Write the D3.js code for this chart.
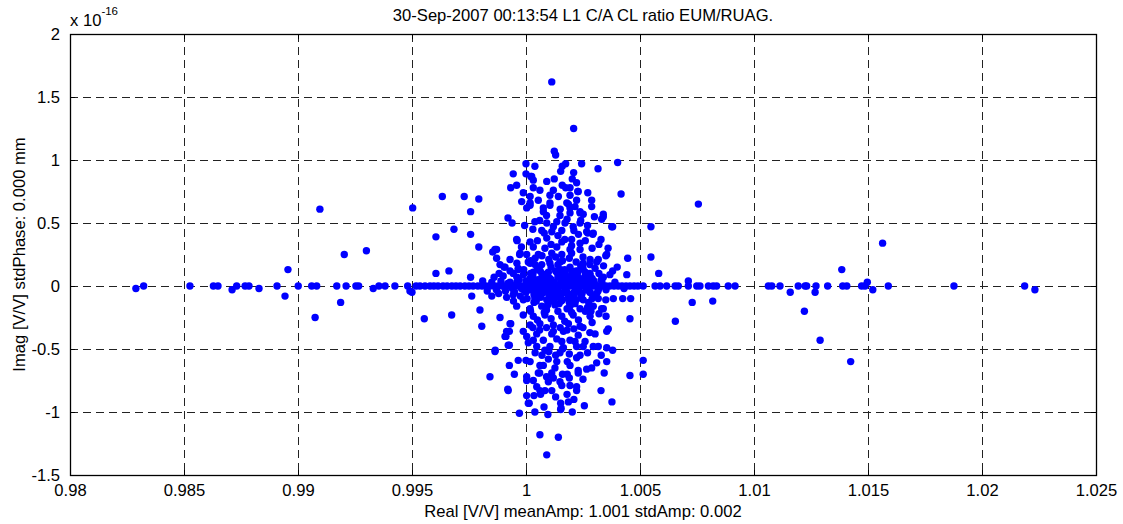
<!DOCTYPE html>
<html>
<head>
<meta charset="utf-8">
<script src="https://cdn.jsdelivr.net/npm/d3@7"></script>
<style>
  body { margin: 0; background: #fff; }
  svg { display: block; font-family: 'Liberation Sans', Arial, sans-serif; }
</style>
</head>
<body>
<div id="chart"><svg></svg></div>
<script>
// ---------- data (imag part in units of 1e-16) ----------
const titleText = '30-Sep-2007 00:13:54 L1 C/A CL ratio EUM/RUAG.'
const xLabelText = 'Real [V/V] meanAmp: 1.001 stdAmp: 0.002'
const yLabelText = 'Imag [V/V] stdPhase: 0.000 mm'

const realTicks = [0.98, 0.985, 0.99, 0.995, 1, 1.005, 1.01, 1.015, 1.02, 1.025]
const realTickLabels = ['0.98', '0.985', '0.99', '0.995', '1', '1.005', '1.01', '1.015', '1.02', '1.025']
const imagTicks = [-1.5, -1, -0.5, 0, 0.5, 1, 1.5, 2]
const imagTickLabels = ['-1.5', '-1', '-0.5', '0', '0.5', '1', '1.5', '2']

// points lying on the real axis (imag = 0)
const zeroLineReal = [
  0.98323, 0.98526, 0.98629, 0.98649, 0.98731, 0.98768, 0.98785, 0.98908, 0.99001, 0.9906,
  0.99082, 0.9917, 0.99211, 0.99254, 0.99266, 0.99355, 0.99382, 0.99425, 0.99481, 0.99518,
  0.99535, 0.99557, 0.99579, 0.99596, 0.99614, 0.99636, 0.99654, 0.99675, 0.99693, 0.99711,
  0.99732, 0.9975, 0.99768, 0.99789, 0.99807, 0.99825, 0.99842, 0.9986, 0.99877, 0.99895,
  0.99912, 0.9993, 0.99947, 0.99965, 0.99982, 1.0, 1.00018, 1.00035, 1.00053, 1.0007,
  1.00088, 1.00105, 1.00123, 1.0014, 1.00158, 1.00175, 1.00193, 1.00211, 1.00228, 1.00246,
  1.00263, 1.00281, 1.00298, 1.00316, 1.00333, 1.00351, 1.00368, 1.00386, 1.00404, 1.00421,
  1.00439, 1.00456, 1.00474, 1.00491, 1.00514, 1.00566, 1.00588, 1.00617, 1.00654, 1.00668,
  1.00712, 1.00749, 1.00763, 1.008, 1.00821, 1.00836, 1.00887, 1.00917, 1.01063, 1.01078,
  1.01114, 1.01194, 1.01224, 1.01231, 1.01272, 1.01323, 1.01389, 1.01407, 1.01472, 1.01487,
  1.01589, 1.01877, 1.02187
]

// dense core around 1.001 (real, imag)
const corePts = [
  [0.9985, 0.03], [0.9987, -0.03], [0.9989, 0.04], [0.9991, -0.04], [0.9993, 0.03], [0.9995, -0.05],
  [0.9997, 0.05], [0.9999, -0.03], [1.0, 0.04], [1.0, -0.05], [1.00018, 0.06], [1.00018, -0.03],
  [1.00035, 0.03], [1.00035, -0.07], [1.00053, 0.05], [1.00053, -0.04], [1.0007, 0.07], [1.0007, -0.06],
  [1.00088, 0.04], [1.00088, -0.03], [1.00105, 0.06], [1.00105, -0.07], [1.00123, 0.03], [1.00123, -0.05],
  [1.0014, 0.07], [1.0014, -0.04], [1.00158, 0.05], [1.00158, -0.06], [1.00175, 0.04], [1.00175, -0.03],
  [1.00193, 0.06], [1.00193, -0.07], [1.00211, 0.03], [1.00211, -0.05], [1.00228, 0.05], [1.00228, -0.04],
  [1.00246, 0.04], [1.00246, -0.06], [1.00263, 0.06], [1.00263, -0.03], [1.00281, 0.03], [1.00281, -0.05],
  [1.00298, 0.04], [1.00316, -0.04], [1.00333, 0.03], [1.00351, -0.03], [1.0039, 0.03], [1.0043, -0.02],
  [1.00062, 0.12], [1.0011, -0.12], [1.00152, 0.13], [1.0019, -0.13], [1.0023, 0.12], [1.00098, 0.11],
  [1.0013, -0.09], [1.0017, 0.1], [1.0021, -0.09], [1.0025, 0.14], [1.00145, -0.14], [1.00045, -0.12],
  [0.999, 0.08], [0.99915, -0.09], [0.9993, 0.12], [0.99945, -0.12], [0.9996, 0.07], [0.99975, -0.08],
  [0.9999, 0.13], [1.00005, -0.1], [1.0002, 0.1], [1.00035, -0.13], [1.0005, 0.14], [1.00065, -0.09],
  [1.0008, 0.08], [1.00095, -0.15], [1.0011, 0.15], [1.00125, -0.1], [1.0014, 0.1], [1.00155, -0.12],
  [1.0017, 0.13], [1.00185, -0.08], [1.002, 0.09], [1.00215, -0.14], [1.0023, 0.07], [1.00245, -0.1],
  [1.0026, 0.11], [1.00275, -0.13], [1.0029, 0.06], [1.00305, -0.08], [1.0032, 0.1], [1.0035, -0.11],
  [0.9992, 0.02], [0.9994, -0.02], [0.9996, 0.03], [0.9998, -0.02], [1.0001, 0.02], [1.0003, -0.02],
  [1.0005, 0.02], [1.0008, -0.02], [1.001, 0.02], [1.0012, -0.02], [1.0015, 0.02], [1.0017, -0.02],
  [1.002, 0.02], [1.0022, -0.02], [1.0025, 0.02], [1.0027, -0.02], [1.003, 0.02], [1.0032, -0.02],
  [1.0003, 0.08], [1.0006, -0.08], [1.0009, 0.09], [1.0012, -0.08], [1.0016, 0.07], [1.0019, -0.1],
  [1.0022, 0.12], [1.0024, -0.07], [1.0028, 0.1], [1.0031, -0.06],
  [1.0004, 0.17], [1.0009, -0.19], [1.0014, 0.17], [1.0018, -0.18], [1.0024, 0.16], [1.0027, -0.17],
  [1.0006, 0.03], [1.0009, -0.05], [1.0011, 0.05], [1.0013, -0.03], [1.0016, 0.04], [1.0018, -0.05],
  [1.0021, 0.05], [1.0023, -0.03], [1.0026, 0.04], [1.0028, -0.05], [1.0033, 0.05], [1.0007, 0.1],
  [1.001, -0.1], [1.0013, 0.12], [1.0016, -0.11], [1.002, 0.12], [1.0022, -0.11], [1.0026, 0.08],
  [1.0029, -0.1], [1.0011, -0.05], [1.0015, 0.08], [1.0019, 0.05], [1.0021, -0.06], [0.9988, -0.06],
  [0.9986, 0.07], [0.9983, -0.04], [0.9981, 0.04]
]

// scattered points off the real axis (real, imag)
const offAxisPts = [
  [0.98289, -0.02], [0.98711, -0.03], [0.98829, -0.02], [0.98956, 0.13], [0.98943, -0.08],
  [0.99075, -0.25], [0.99096, 0.61], [0.99203, 0.25], [0.99187, -0.13], [0.993, 0.28],
  [0.9933, -0.02], [0.995, -0.05], [0.99491, -0.04],
  [0.99503, 0.62], [0.99633, 0.71], [0.99729, 0.71], [0.99793, 0.69], [0.99757, 0.59],
  [0.99605, 0.39], [0.99684, 0.45], [0.99757, 0.41], [0.99793, 0.31], [0.99854, 0.27],
  [0.99871, 0.29], [0.99871, 0.22], [0.99605, 0.1], [0.99662, 0.12], [0.99757, 0.07],
  [0.99904, 0.15], [0.99882, 0.1], [0.99966, 0.13], [0.99921, 0.54], [0.99939, 0.5],
  [0.99961, 0.36], [0.99972, 0.25], [0.99994, 0.48], [0.99933, 0.78], [0.99959, 0.8],
  [0.99944, 0.89], [1.0, 0.97], [1.0, 0.89], [1.00039, 0.95], [1.00032, 0.84], [1.00021, 0.87],
  [1.00124, 1.07], [1.0013, 1.04], [1.00209, 1.25], [1.00113, 1.62], [1.00174, 0.97],
  [1.00159, 0.95], [1.00152, 0.91], [1.00244, 0.97], [1.00316, 0.93], [1.00402, 0.98],
  [1.00209, 0.9], [1.00091, 0.83], [1.00124, 0.85], [1.00203, 0.85], [1.00222, 0.82],
  [1.00159, 0.8], [1.00174, 0.78], [1.00193, 0.78], [1.00227, 0.75], [1.00271, 0.74],
  [1.00288, 0.68], [1.00288, 0.63], [1.00417, 0.73], [1.00339, 0.57], [1.00332, 0.53],
  [1.0038, 0.47], [1.00329, 0.37], [1.00293, 0.41], [1.00271, 0.42], [1.0035, 0.24],
  [1.00446, 0.22], [1.00025, 0.87], [0.99988, 0.74], [1.00018, 0.71], [0.99981, 0.67],
  [1.00018, 0.66], [1.00054, 0.68], [1.00105, 0.72], [1.00142, 0.71], [1.00193, 0.72],
  [1.00229, 0.75], [1.00222, 0.68], [1.00186, 0.65], [1.00105, 0.66], [1.00076, 0.62],
  [1.00003, 0.62], [1.00193, 0.62], [1.00237, 0.59], [1.00251, 0.57], [1.00032, 0.78],
  [1.00061, 0.76], [1.0012, 0.76],
  [1.00018, 0.64], [1.00105, 0.64], [1.00179, 0.66], [1.00215, 0.63], [1.00076, 0.59],
  [1.00149, 0.56], [1.00193, 0.58], [1.00237, 0.58], [1.00339, 0.55], [1.00039, 0.51],
  [1.00091, 0.5], [1.00135, 0.51], [1.00171, 0.5], [1.00207, 0.47], [1.00237, 0.5],
  [1.00376, 0.47], [1.00069, 0.44], [1.00113, 0.43], [1.00157, 0.44], [1.00266, 0.43],
  [1.00295, 0.42], [0.99959, 0.37], [1.00018, 0.35], [1.00091, 0.38], [1.00157, 0.35],
  [1.002, 0.37], [1.00237, 0.34], [0.99864, 0.29], [1.00032, 0.31], [1.00083, 0.3],
  [1.00135, 0.31], [1.00193, 0.29], [1.00237, 0.29], [0.99974, 0.26], [1.00003, 0.25],
  [1.00054, 0.25], [1.00113, 0.26], [1.00157, 0.25], [1.002, 0.26], [1.00281, 0.21],
  [1.00317, 0.21], [1.00354, 0.25], [0.99886, 0.17], [0.99908, 0.15], [0.99966, 0.14],
  [1.00018, 0.18], [1.00069, 0.17], [1.00105, 0.18], [1.00149, 0.19], [1.00193, 0.15],
  [1.00251, 0.18], [1.00303, 0.14], [0.99944, 0.1], [0.99988, 0.09], [1.00032, 0.11],
  [1.00091, 0.09], [1.00135, 0.11], [1.00171, 0.09], [1.00222, 0.1], [1.00281, 0.09],
  [1.00339, 0.07], [1.00368, 0.09], [1.00442, 0.09],
  [1.00548, 0.47], [1.00548, 0.23], [1.00582, 0.1], [1.00756, 0.65], [1.00712, 0.04],
  [1.00729, -0.13], [1.00819, -0.12], [1.00655, -0.28],
  [1.01159, -0.05], [1.01268, -0.05], [1.01385, 0.13], [1.01497, 0.03], [1.01521, -0.03],
  [1.01564, 0.34], [1.02232, -0.03], [1.01221, -0.2], [1.0129, -0.43], [1.01424, -0.6],
  [1.00514, -0.7], [1.00514, -0.59], [1.00456, -0.71], [1.00456, -0.26], [1.00459, -0.1],
  [1.00424, -0.1], [1.00377, -0.92], [1.0038, -0.51], [1.00361, -0.34], [1.00351, -0.24],
  [1.00332, -0.18], [1.00285, -0.2], [1.00329, -0.83], [1.00256, -0.95], [1.00203, -1.0],
  [1.00186, -0.92], [1.00154, -0.97], [1.00096, -1.02], [1.00039, -1.0], [1.0001, -0.93],
  [1.00003, -0.87], [0.99971, -1.01], [1.00061, -1.18], [1.00142, -1.2], [1.00091, -1.34],
  [0.9992, -0.82], [0.99842, -0.72], [0.99949, -0.7], [0.99927, -0.63], [0.99865, -0.51],
  [0.99927, -0.47], [0.99912, -0.4], [0.99927, -0.36], [0.99933, -0.3], [0.99886, -0.25],
  [0.99806, -0.32], [0.99798, -0.19], [0.99762, -0.08], [0.9985, -0.08], [0.99674, -0.23],
  [0.99554, -0.26],
  [0.99944, -0.07], [0.99988, -0.11], [1.00039, -0.1], [1.00091, -0.11], [1.00149, -0.08],
  [1.00207, -0.1], [1.00251, -0.11], [1.00317, -0.1], [1.00383, -0.1], [0.99959, -0.16],
  [1.00018, -0.18], [1.00069, -0.16], [1.00127, -0.15], [1.00193, -0.16], [1.00237, -0.18],
  [1.00295, -0.16], [1.00339, -0.18], [0.99988, -0.23], [1.00032, -0.24], [1.00083, -0.23],
  [1.00157, -0.24], [1.00207, -0.23], [1.00281, -0.24], [0.9993, -0.3], [1.00018, -0.31],
  [1.00061, -0.3], [1.0012, -0.31], [1.00186, -0.3], [1.00237, -0.32], [0.99915, -0.36],
  [0.99988, -0.36], [1.00047, -0.38], [1.00113, -0.38], [1.00164, -0.36], [1.00229, -0.39],
  [1.00303, -0.38], [1.00354, -0.36], [0.99908, -0.4], [1.00003, -0.4], [1.00032, -0.43],
  [1.00076, -0.43], [1.00135, -0.42], [1.00193, -0.43], [1.00259, -0.44], [0.99922, -0.47],
  [0.99864, -0.52], [1.00047, -0.48], [1.00105, -0.48], [1.00164, -0.49], [1.00222, -0.48],
  [1.00317, -0.48], [1.00354, -0.49],
  [1.00083, -0.51], [1.00149, -0.53], [1.00157, -0.44], [1.00215, -0.44], [1.00251, -0.48],
  [1.00295, -0.48], [1.00237, -0.55], [1.00222, -0.57], [0.99966, -0.59], [1.0, -0.59],
  [1.00018, -0.6], [1.00061, -0.63], [1.00098, -0.58], [1.00135, -0.6], [1.00181, -0.6],
  [1.00193, -0.63], [1.0031, -0.61], [1.00354, -0.6], [1.00076, -0.63], [1.00127, -0.65],
  [1.00229, -0.67], [1.00266, -0.66], [1.00288, -0.65], [1.00003, -0.72], [1.00003, -0.75],
  [1.00032, -0.75], [1.00054, -0.69], [1.00113, -0.69], [1.00181, -0.7], [1.00229, -0.69],
  [1.00343, -0.69], [1.00098, -0.76], [1.00149, -0.76], [1.00157, -0.79], [1.00193, -0.79],
  [1.00222, -0.8], [1.00222, -0.83], [0.99922, -0.83], [1.00047, -0.8], [1.00061, -0.83],
  [1.00083, -0.83], [1.00113, -0.83], [1.00035, -0.87], [1.00064, -0.86], [1.00014, -0.93],
  [1.00152, -0.93], [1.00079, -0.96], [1.00152, -0.98]
]

// extra points filling the central cloud (real, imag)
const cloudPts = [
  [1.0003, 0.45], [1.0006, 0.52], [1.0009, 0.56], [1.0012, 0.47], [1.0015, 0.61], [1.0018, 0.53],
  [1.0021, 0.44], [1.0024, 0.52], [1.0027, 0.48], [1.003, 0.55], [1.0002, 0.2], [1.0005, 0.36],
  [1.0008, 0.42], [1.0011, 0.33], [1.0014, 0.4], [1.0017, 0.37], [1.002, 0.32], [1.0023, 0.41],
  [1.0026, 0.36], [1.0029, 0.3], [1.0032, 0.33], [1.0001, 0.19], [1.0004, 0.22], [1.0007, 0.24],
  [1.001, 0.21], [1.0013, 0.23], [1.0016, 0.2], [1.0019, 0.22], [1.0022, 0.19], [1.0025, 0.23],
  [1.0028, 0.17], [1.0031, 0.19], [1.0034, 0.16], [0.9996, 0.18], [0.9993, 0.21], [0.9998, 0.31],
  [1.0036, 0.3], [1.004, 0.15], [1.0038, 0.12],
  [1.0002, -0.2], [1.0005, -0.27], [1.0008, -0.21], [1.0011, -0.26], [1.0014, -0.2], [1.0017, -0.28],
  [1.002, -0.21], [1.0023, -0.27], [1.0026, -0.2], [1.0029, -0.29], [1.0032, -0.22], [1.0003, -0.33],
  [1.0006, -0.35], [1.0009, -0.33], [1.0012, -0.36], [1.0015, -0.33], [1.0018, -0.35], [1.0021, -0.34],
  [1.0025, -0.33], [1.0028, -0.37], [1.0001, -0.45], [1.0004, -0.53], [1.0007, -0.55], [1.001, -0.52],
  [1.0013, -0.55], [1.0016, -0.5], [1.0019, -0.54], [1.0027, -0.53], [1.0033, -0.55], [1.0006, -0.69],
  [1.0009, -0.72], [1.0012, -0.73], [1.0016, -0.7], [1.0019, -0.73], [1.0025, -0.74], [1.0013, -0.88],
  [1.0018, -0.86], [1.0021, -0.9]
]

// ---------- layout ----------
const svgWidth = 1123
const svgHeight = 524
const margin = { top: 34, right: 27, bottom: 49, left: 70 }
const width = svgWidth - margin.left - margin.right
const height = svgHeight - margin.top - margin.bottom
const fontSize = 16.6

const svg = d3.select('#chart').select('svg')
  .attr('width', svgWidth)
  .attr('height', svgHeight)

const g = svg.append('g')
  .attr('transform', 'translate(' + margin.left + ',' + margin.top + ')')

const xScale = d3.scaleLinear().domain([0.98, 1.025]).range([0, width])
const yScale = d3.scaleLinear().domain([-1.5, 2]).range([height, 0])

// grid
const grid = g.append('g').attr('class', 'grid')

grid.selectAll('line.vx')
  .data(realTicks.slice(1, -1))
  .join('line')
  .attr('class', 'vx')
  .attr('x1', d => Math.round(xScale(d)) + 0.5)
  .attr('x2', d => Math.round(xScale(d)) + 0.5)
  .attr('y1', 0)
  .attr('y2', height)

grid.selectAll('line.hy')
  .data(imagTicks.slice(1, -1))
  .join('line')
  .attr('class', 'hy')
  .attr('x1', 0)
  .attr('x2', width)
  .attr('y1', d => Math.round(yScale(d)) + 0.5)
  .attr('y2', d => Math.round(yScale(d)) + 0.5)

grid.selectAll('line')
  .attr('stroke', '#222')
  .attr('stroke-width', 1)
  .attr('stroke-dasharray', '8,5')

// points
const allPts = zeroLineReal.map(r => [r, 0]).concat(corePts, offAxisPts, cloudPts)
g.append('g')
  .attr('class', 'points')
  .selectAll('circle')
  .data(allPts)
  .join('circle')
  .attr('cx', d => xScale(d[0]))
  .attr('cy', d => yScale(d[1]))
  .attr('r', 3.7)
  .attr('fill', '#0000ff')

// axes (ticks point inward, matlab style)
g.append('g')
  .attr('class', 'x axis')
  .attr('transform', 'translate(0,' + height + ')')
  .call(d3.axisBottom(xScale)
    .tickValues(realTicks)
    .tickFormat((d, i) => realTickLabels[i])
    .tickSizeInner(-5)
    .tickSizeOuter(0)
    .tickPadding(9))

g.append('g')
  .attr('class', 'y axis')
  .call(d3.axisLeft(yScale)
    .tickValues(imagTicks)
    .tickFormat((d, i) => imagTickLabels[i])
    .tickSizeInner(-5)
    .tickSizeOuter(0)
    .tickPadding(10))

g.append('g')
  .call(d3.axisTop(xScale).tickValues(realTicks).tickFormat('').tickSizeInner(-5).tickSizeOuter(0))
g.append('g')
  .attr('transform', 'translate(' + width + ',0)')
  .call(d3.axisRight(yScale).tickValues(imagTicks).tickFormat('').tickSizeInner(-5).tickSizeOuter(0))

svg.selectAll('.domain').remove()
svg.selectAll('.tick line').attr('stroke', '#000')
svg.selectAll('.axis text')
  .attr('fill', '#000')
  .style('font-size', fontSize + 'px')
  .style('font-family', "'Liberation Sans', Arial, sans-serif")

// box
g.append('rect')
  .attr('x', 0.5)
  .attr('y', 0.5)
  .attr('width', width)
  .attr('height', height)
  .attr('fill', 'none')
  .attr('stroke', '#000')
  .attr('stroke-width', 1.3)

// labels
svg.append('text')
  .text(titleText)
  .attr('x', margin.left + width / 2)
  .attr('y', 21)
  .attr('text-anchor', 'middle')
  .attr('font-size', fontSize)
  .attr('fill', '#000')

svg.append('text')
  .text(xLabelText)
  .attr('x', margin.left + width / 2)
  .attr('y', 517)
  .attr('text-anchor', 'middle')
  .attr('font-size', fontSize)
  .attr('fill', '#000')

svg.append('text')
  .text(yLabelText)
  .attr('transform', 'translate(' + 25 + ',' + (margin.top + height / 2) + ') rotate(-90)')
  .attr('text-anchor', 'middle')
  .attr('font-size', fontSize)
  .attr('fill', '#000')

// exponent label
const expLabel = svg.append('text')
  .attr('x', 70)
  .attr('y', 26)
  .attr('font-size', fontSize)
  .attr('fill', '#000')
expLabel.append('tspan').text('x 10')
expLabel.append('tspan').text('-16')
  .attr('font-size', 11.5)
  .attr('dy', -11)
</script>
</body>
</html>
